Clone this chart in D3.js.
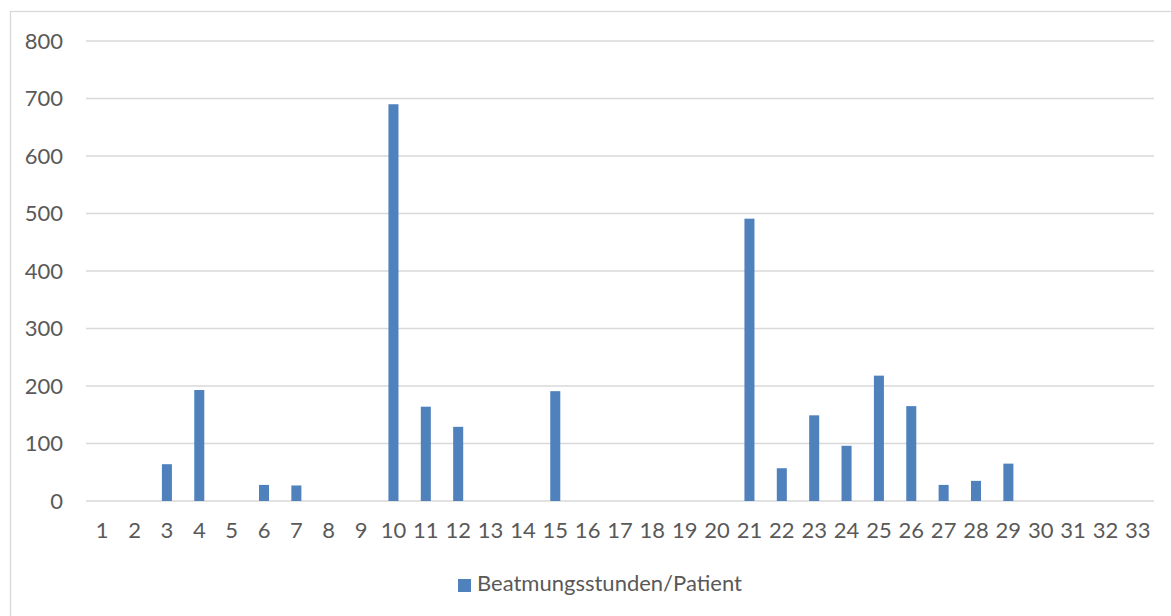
<!DOCTYPE html>
<html>
<head>
<meta charset="utf-8">
<script src="https://cdn.jsdelivr.net/npm/d3@7"></script>
<style>
  html, body { margin: 0; padding: 0; background: #ffffff; }
  svg { display: block; }
  text { font-family: Lato, "Open Sans", sans-serif; fill: #595959; }
</style>
</head>
<body>
<svg id="chart" width="1171" height="616"></svg>
<script>
// Ventilation hours per patient, by patient number
const categories = d3.range(1, 34).map(String);
const seriesName = "Beatmungsstunden/Patient";
const values = [0, 0, 64, 193, 0, 28, 27, 0, 0, 690, 164, 129, 0, 0, 191, 0, 0, 0, 0, 0,
                491, 57, 149, 96, 218, 165, 28, 35, 65, 0, 0, 0, 0];
const yTicks = [0, 100, 200, 300, 400, 500, 600, 700, 800];

const svg = d3.select("#chart");
const W = 1171, H = 616;
const plot = { left: 86, right: 1154, top: 41, bottom: 501 };
const barColor = "#4F81BD";
const fontSize = 22;

// outer chart frame
svg.append("rect")
  .attr("x", 10.5).attr("y", 11.5)
  .attr("width", 1300).attr("height", 700)
  .attr("fill", "none")
  .attr("stroke", "#d9d9d9")
  .attr("stroke-width", 1.3);

const x = d3.scaleBand()
  .domain(categories)
  .range([plot.left, plot.right])
  .paddingInner(0.69)
  .paddingOuter(0.345);

const y = d3.scaleLinear()
  .domain([0, 800])
  .range([plot.bottom, plot.top]);

// horizontal gridlines
svg.append("g")
  .selectAll("line")
  .data(yTicks)
  .join("line")
  .attr("x1", plot.left).attr("x2", plot.right)
  .attr("y1", d => y(d)).attr("y2", d => y(d))
  .attr("stroke", "#d9d9d9")
  .attr("stroke-width", 1.4);

// y axis labels
const yAxis = d3.axisLeft(y).tickValues(yTicks).tickSize(0).tickPadding(23);
const gy = svg.append("g")
  .attr("transform", `translate(${plot.left},0)`)
  .call(yAxis);
gy.select(".domain").remove();
gy.selectAll("text")
  .style("font-size", fontSize + "px")
  .style("font-family", "Lato, 'Open Sans', sans-serif")
  .attr("fill", "#595959");

// x axis labels
const xAxis = d3.axisBottom(x).tickSize(0).tickPadding(21);
const gx = svg.append("g")
  .attr("transform", `translate(0,${plot.bottom})`)
  .call(xAxis);
gx.select(".domain").remove();
gx.selectAll("text")
  .style("font-size", fontSize + "px")
  .style("font-family", "Lato, 'Open Sans', sans-serif")
  .attr("fill", "#595959");

// bars
svg.append("g")
  .selectAll("rect")
  .data(values.map((v, i) => ({ cat: categories[i], v })))
  .join("rect")
  .attr("x", d => x(d.cat))
  .attr("width", x.bandwidth())
  .attr("y", d => y(d.v))
  .attr("height", d => y(0) - y(d.v))
  .attr("fill", barColor);

// legend
const legend = svg.append("g");
const legendText = legend.append("text")
  .attr("x", 477)
  .attr("y", 591)
  .style("font-size", fontSize + "px")
  .text(seriesName);
legend.append("rect")
  .attr("x", 458).attr("y", 579)
  .attr("width", 13).attr("height", 13)
  .attr("fill", barColor);
</script>
</body>
</html>
